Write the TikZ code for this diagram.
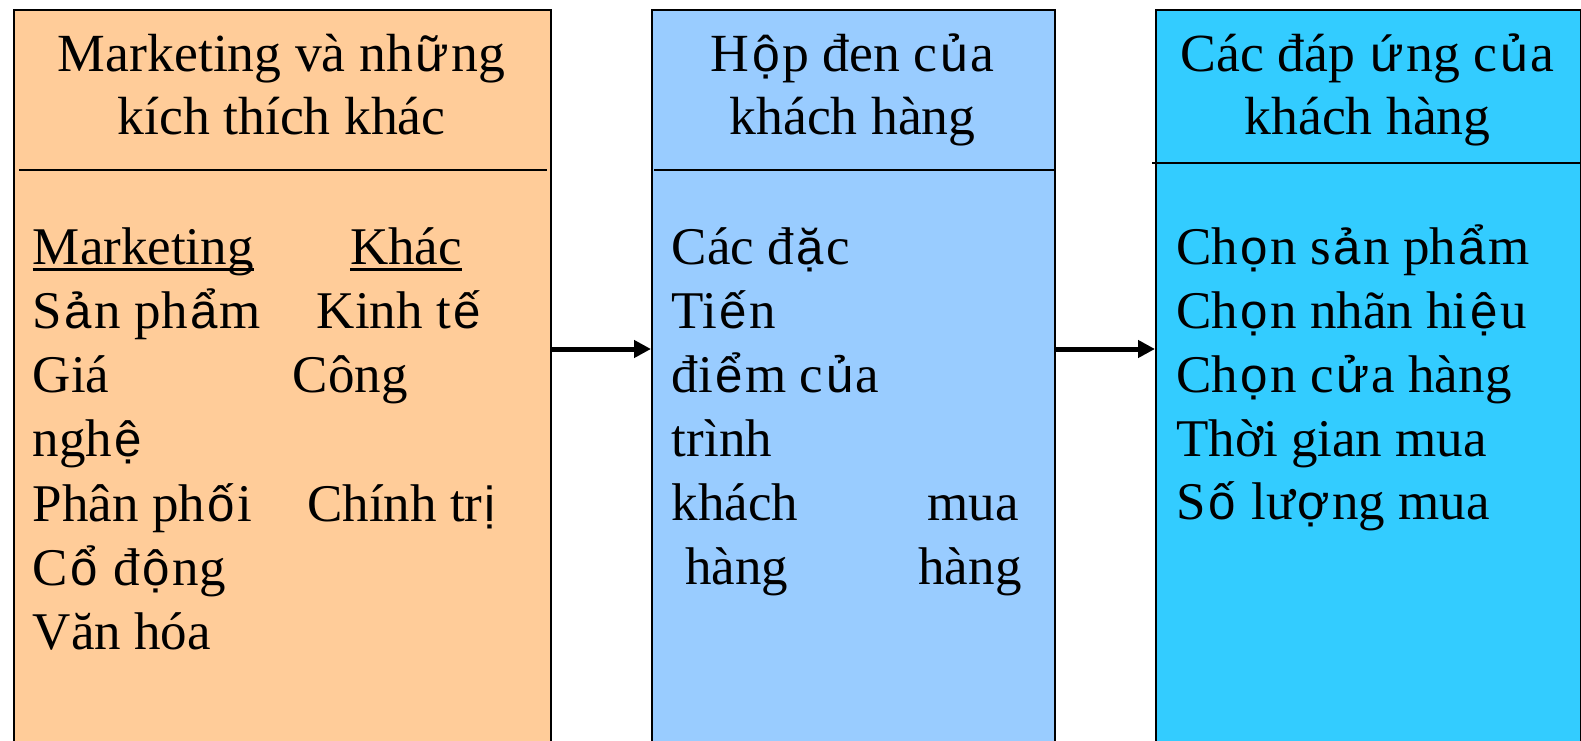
\documentclass[tikz,border=0pt]{standalone}
\usepackage{fontspec}
\setmainfont{Liberation Serif}
\newfontfamily\svfont{Liberation Sans}[Scale=0.93]
\newcommand\sv[1]{\kern2.5pt\relax{\svfont #1}\kern2.5pt\relax}
\usetikzlibrary{arrows.meta,calc}
\definecolor{panelorange}{HTML}{FFCC99}
\definecolor{panelblue}{HTML}{99CCFF}
\definecolor{panelcyan}{HTML}{33CCFF}
\tikzset{
  panel/.style={draw=black, line width=2pt, anchor=north west, inner sep=0pt, minimum height=751pt},
  divider/.style={draw=black, line width=2.5pt},
  headtxt/.style={font=\fontsize{53.7}{62}\selectfont, inner sep=0pt, anchor=base},
  bodytxt/.style={font=\fontsize{53}{64}\selectfont, inner sep=0pt, anchor=base west},
  bodyright/.style={bodytxt, anchor=base east},
  uline/.style={draw=black, line width=3pt},
  arrowline/.style={draw=black, line width=5pt, -{Triangle[length=17pt,width=17pt]}}
}
\begin{document}
\begin{tikzpicture}[x=1pt,y=-1pt]
\useasboundingbox (0,0) rectangle (1581,741);
% panels
\node[panel, fill=panelorange, minimum width=537pt] (b1) at (13,9) {};
\node[panel, fill=panelblue, minimum width=403pt] (b2) at (651,9) {};
\node[panel, fill=panelcyan, minimum width=425pt] (b3) at (1155,9) {};
% dividers
\draw[divider] ($(b1.north west)+(6,161)$) -- ($(b1.north east)+(-5,161)$);
\draw[divider] ($(b2.north west)+(3,161)$) -- ($(b2.north east)+(-2,161)$);
\draw[divider] ($(b3.north west)+(-3,154)$) -- ($(b3.north east)+(0,154)$);
% headers
\node[headtxt] (h1a) at (281.5,71.7) {Marketing và nh\sv{ữ}ng};
\node[headtxt] (h1b) at (281.5,135) {kích thích khác};
\node[headtxt] (h2a) at (852.5,71.7) {H\sv{ộ}p đen c\sv{ủ}a};
\node[headtxt] (h2b) at (852.5,135) {khách hàng};
\node[headtxt] (h3a) at (1367.5,71.7) {Các đáp \sv{ứ}ng c\sv{ủ}a};
\node[headtxt] (h3b) at (1367.5,135) {khách hàng};
% box 1 body
\node[bodytxt] (m1) at (32.7,264.3) {Marketing};
\node[bodytxt] (m2) at (350,264.3) {Khác};
\draw[uline] ($(m1.base west)+(0,5)$) -- ($(m1.base east)+(0,5)$);
\draw[uline] ($(m2.base west)+(0,5)$) -- ($(m2.base east)+(0,5)$);
\node[bodytxt] (a1) at (32.7,328.5) {S\sv{ả}n ph\sv{ẩ}m};
\node[bodytxt] (a2) at (316.7,328.5) {Kinh t\sv{ế}};
\node[bodytxt] (a3) at (32.7,392.7) {Giá};
\node[bodytxt] (a4) at (292.7,392.7) {Công};
\node[bodytxt] (a5) at (32.7,456.9) {ngh\sv{ệ}};
\node[bodytxt] (a6) at (32.7,521) {Phân ph\sv{ố}i};
\node[bodytxt] (a7) at (307,521) {Chính tr\sv{ị}};
\node[bodytxt] (a8) at (32.7,585) {C\sv{ổ} đ\sv{ộ}ng};
\node[bodytxt] (a9) at (32.7,649) {Văn hóa};
% box 2 body
\node[bodytxt] (c1) at (671.7,264.3) {Các đ\sv{ặ}c};
\node[bodytxt] (c2) at (671.7,328.5) {Ti\sv{ế}n};
\node[bodytxt] (c3) at (671.7,392.7) {đi\sv{ể}m c\sv{ủ}a};
\node[bodytxt] (c4) at (671.7,456.7) {trình};
\node[bodytxt] (c5) at (671.7,520.5) {khách};
\node[bodyright] (c6) at (1019,520.5) {mua};
\node[bodytxt] (c7) at (685,584.5) {hàng};
\node[bodyright] (c8) at (1021.7,584.5) {hàng};
% box 3 body
\node[bodytxt] (r1) at (1176,264.3) {Ch\sv{ọ}n s\sv{ả}n ph\sv{ẩ}m};
\node[bodytxt] (r2) at (1176,328.3) {Ch\sv{ọ}n nhãn hi\sv{ệ}u};
\node[bodytxt] (r3) at (1176,392.3) {Ch\sv{ọ}n c\sv{ử}a hàng};
\node[bodytxt] (r4) at (1176,456) {Thời gian mua};
\node[bodytxt] (r5) at (1176,519.5) {S\sv{ố} lư\sv{ợ}ng mua};
% arrows
\coordinate (ay) at (0,349);
\draw[arrowline] (b1.east |- ay) -- (b2.west |- ay);
\draw[arrowline] (b2.east |- ay) -- (b3.west |- ay);
\end{tikzpicture}
\end{document}
